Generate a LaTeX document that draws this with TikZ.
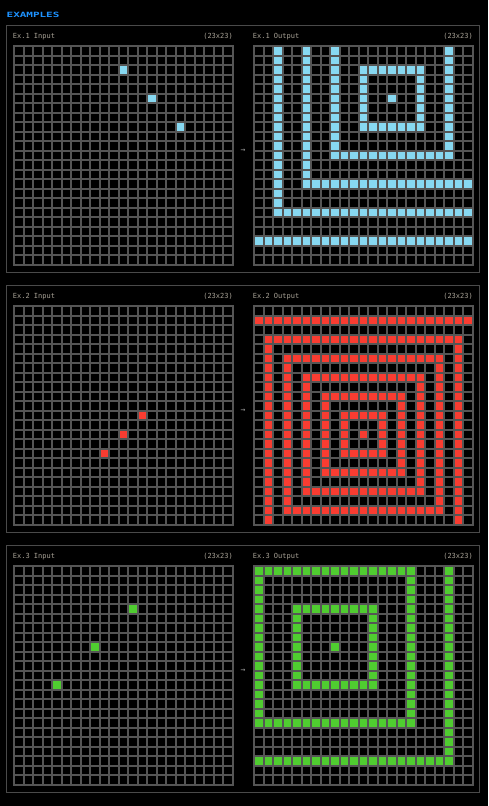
\documentclass[tikz,border=0pt]{standalone}
\usepackage{fontspec}
\newfontfamily\monof{DejaVu Sans Mono}
\definecolor{arcblue}{HTML}{1E93FF}
\definecolor{arclblue}{HTML}{87D8F1}
\definecolor{arcred}{HTML}{F93C31}
\definecolor{arcgreen}{HTML}{4FCC30}
\definecolor{gridgray}{HTML}{555555}
\definecolor{panelgray}{HTML}{4A4A4A}
\definecolor{labgray}{HTML}{A8A296}
\tikzset{
  lab/.style={font=\monof\fontsize{7}{8}\selectfont, text=labgray, inner sep=0pt},
  panelbox/.style={draw=panelgray, line width=1pt, fill=black},
  arrowlab/.style={font=\monof\fontsize{8}{9}\selectfont, text=gray!75, inner sep=0pt},
}
% empty grid
\newcommand\plaingrid[2]{%
  \fill[gridgray] (#1,#2) rectangle ++(220.3,220.3);
  \foreach \ri in {0,...,22}{%
    \foreach \ci in {0,...,22}{%
      \fill[black] ({#1+1.8+\ci*9.5},{#2+1.8+\ri*9.5}) rectangle ++(7.7,7.7);
    }}}
% one coloured cell: x0 y0 row col colour
\newcommand\cellat[5]{%
  \fill[#5] ({#1+1.8+#4*9.5},{#2+1.8+#3*9.5}) rectangle ++(7.7,7.7);}
% concentric rings: x0 y0 centre-row centre-col step colour
\newcommand\ringgrid[6]{%
  \fill[gridgray] (#1,#2) rectangle ++(220.3,220.3);
  \foreach \ri in {0,...,22}{%
    \foreach \ci in {0,...,22}{%
      \pgfmathtruncatemacro\dd{max(abs(\ri-#3),abs(\ci-#4))}%
      \pgfmathtruncatemacro\mm{mod(\dd,#5)}%
      \ifnum\mm=0 \def\cellcol{#6}\else\def\cellcol{black}\fi
      \fill[\cellcol] ({#1+1.8+\ci*9.5},{#2+1.8+\ri*9.5}) rectangle ++(7.7,7.7);
    }}}
\begin{document}
\begin{tikzpicture}[x=1pt,y=-1pt]
\fill[black] (0,0) rectangle (488,806);
\useasboundingbox (0,0) rectangle (488,806);

\node[font=\monof\bfseries\fontsize{7.2}{8}\selectfont, text=arcblue, anchor=base west, inner sep=0pt] (title) at (6.5,17.8) {\scalebox{1.52}[1]{EXAMPLES}};

% ---------- Example 1 ----------
\draw[panelbox] (6.3,25.3) rectangle (479.3,272.3);
\node[lab, anchor=base west] (in1lab) at (12.7,38.2) {Ex.1 Input};
\node[lab, anchor=base east] (in1dim) at (233,38.2) {(23x23)};
\node[lab, anchor=base west] (out1lab) at (252.7,38.2) {Ex.1 Output};
\node[lab, anchor=base east] (out1dim) at (473,38.2) {(23x23)};
\plaingrid{13.2}{45.2}
\cellat{13.2}{45.2}{2}{11}{arclblue}
\cellat{13.2}{45.2}{5}{14}{arclblue}
\cellat{13.2}{45.2}{8}{17}{arclblue}
\ringgrid{253.2}{45.2}{5}{14}{3}{arclblue}
\node[arrowlab] (arr1) at (243,150.3) {→};

% ---------- Example 2 ----------
\draw[panelbox] (6.3,285.5) rectangle (479.3,532.5);
\node[lab, anchor=base west] (in2lab) at (12.7,298.2) {Ex.2 Input};
\node[lab, anchor=base east] (in2dim) at (233,298.2) {(23x23)};
\node[lab, anchor=base west] (out2lab) at (252.7,298.2) {Ex.2 Output};
\node[lab, anchor=base east] (out2dim) at (473,298.2) {(23x23)};
\plaingrid{13.2}{305.2}
\cellat{13.2}{305.2}{11}{13}{arcred}
\cellat{13.2}{305.2}{13}{11}{arcred}
\cellat{13.2}{305.2}{15}{9}{arcred}
\ringgrid{253.2}{305.2}{13}{11}{2}{arcred}
\node[arrowlab] (arr2) at (243,410.3) {→};

% ---------- Example 3 ----------
\draw[panelbox] (6.3,545.5) rectangle (479.3,792.5);
\node[lab, anchor=base west] (in3lab) at (12.7,558.2) {Ex.3 Input};
\node[lab, anchor=base east] (in3dim) at (233,558.2) {(23x23)};
\node[lab, anchor=base west] (out3lab) at (252.7,558.2) {Ex.3 Output};
\node[lab, anchor=base east] (out3dim) at (473,558.2) {(23x23)};
\plaingrid{13.2}{565.2}
\cellat{13.2}{565.2}{4}{12}{arcgreen}
\cellat{13.2}{565.2}{8}{8}{arcgreen}
\cellat{13.2}{565.2}{12}{4}{arcgreen}
\ringgrid{253.2}{565.2}{8}{8}{4}{arcgreen}
\node[arrowlab] (arr3) at (243,670.3) {→};
\end{tikzpicture}
\end{document}
